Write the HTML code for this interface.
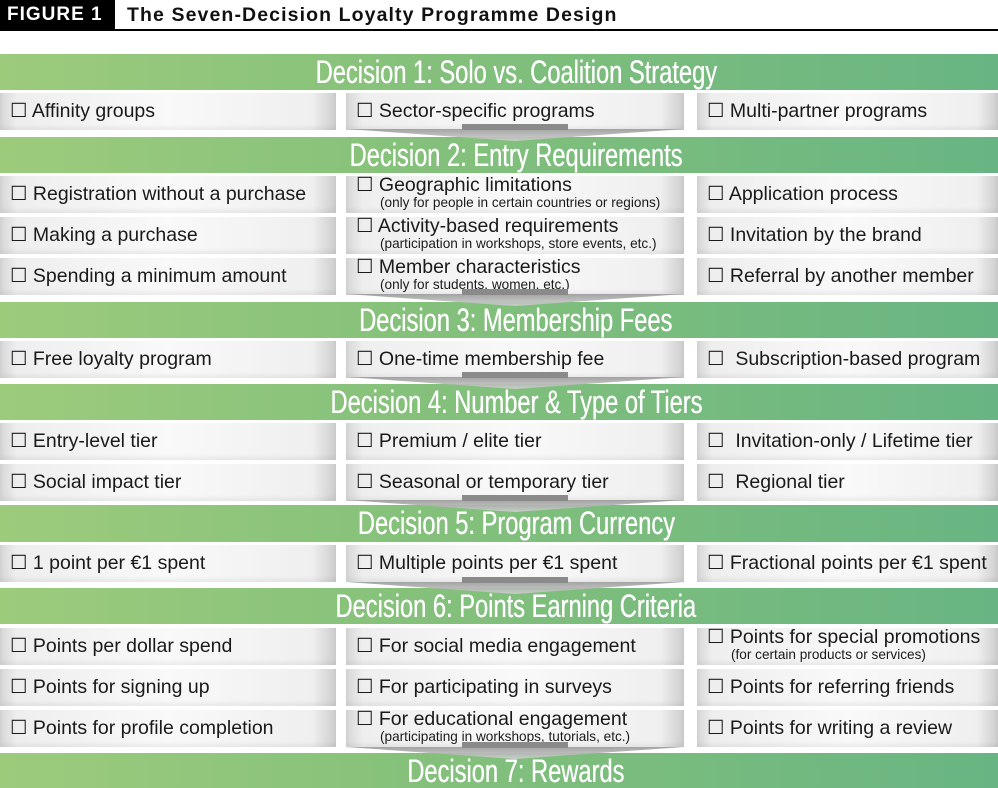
<!DOCTYPE html>
<html><head><meta charset="utf-8"><style>
*{margin:0;padding:0;box-sizing:border-box}
body{width:998px;height:788px;background:#fff;position:relative;overflow:hidden;font-family:"Liberation Sans",sans-serif}
.hdr{position:absolute;left:0;top:0;width:115px;height:30px;background:#000;color:#fff;font-weight:bold;font-size:19px;line-height:30px;padding-left:7px;letter-spacing:1px}
.ttl{position:absolute;left:127px;top:0;height:30px;line-height:30px;font-weight:bold;font-size:19.5px;color:#111;letter-spacing:1.1px}
.line{position:absolute;left:0;top:29px;width:998px;height:2px;background:#000}
.bar{position:absolute;left:0;width:998px;padding-left:34px;background:linear-gradient(to right,#9dcb7c,#83c07b 45%,#68b583);color:#fff;text-align:center;font-family:"Liberation Sans Narrow","Liberation Sans",sans-serif;font-size:32px;white-space:nowrap;overflow:hidden;text-shadow:0.4px 0 0 #fff}
.bar span{display:inline-block;transform:scaleX(0.74)}
.c{position:absolute;height:37px;background:linear-gradient(to right,#d6d6d6,#eeeeee 5%,#f9f9f9 50%,#efefef 93%,#cdcdcd);color:#1a1a1a;font-size:19.5px;padding-left:10px;line-height:37px;white-space:nowrap;box-shadow:inset 0 -3px 4px rgba(0,0,0,0.06)}
.c.s{line-height:19px;padding-top:0}
.c small{display:block;font-size:13.6px;line-height:16px;padding-left:24px}
.a{left:0;width:336px}.b{left:346px;width:338px}.d{left:697px;width:301px}
svg{position:absolute;left:0;top:0}
</style></head><body>
<div class="hdr">FIGURE 1</div>
<div class="ttl">The Seven-Decision Loyalty Programme Design</div>
<div class="line"></div>

<div class="bar" style="top:54px;height:36px;line-height:36px"><span>Decision 1: Solo vs. Coalition Strategy</span></div>
<div class="bar" style="top:137px;height:36px;line-height:36px"><span>Decision 2: Entry Requirements</span></div>
<div class="bar" style="top:302px;height:36px;line-height:36px"><span>Decision 3: Membership Fees</span></div>
<div class="bar" style="top:384px;height:36px;line-height:36px"><span>Decision 4: Number &amp; Type of Tiers</span></div>
<div class="bar" style="top:505px;height:37px;line-height:37px"><span>Decision 5: Program Currency</span></div>
<div class="bar" style="top:588px;height:36px;line-height:36px"><span>Decision 6: Points Earning Criteria</span></div>
<div class="bar" style="top:753px;height:35px;line-height:37px"><span>Decision 7: Rewards</span></div>

<div class="c a" style="top:93px">☐ Affinity groups</div>
<div class="c b" style="top:93px">☐ Sector-specific programs</div>
<div class="c d" style="top:93px">☐ Multi-partner programs</div>

<div class="c a" style="top:176px">☐ Registration without a purchase</div>
<div class="c b s" style="top:176px">☐ Geographic limitations<small>(only for people in certain countries or regions)</small></div>
<div class="c d" style="top:176px">☐ Application process</div>
<div class="c a" style="top:217px">☐ Making a purchase</div>
<div class="c b s" style="top:217px">☐ Activity-based requirements<small>(participation in workshops, store events, etc.)</small></div>
<div class="c d" style="top:217px">☐ Invitation by the brand</div>
<div class="c a" style="top:258px">☐ Spending a minimum amount</div>
<div class="c b s" style="top:258px">☐ Member characteristics<small>(only for students, women, etc.)</small></div>
<div class="c d" style="top:258px">☐ Referral by another member</div>

<div class="c a" style="top:341px">☐ Free loyalty program</div>
<div class="c b" style="top:341px">☐ One-time membership fee</div>
<div class="c d" style="top:341px">☐&nbsp; Subscription-based program</div>

<div class="c a" style="top:423px">☐ Entry-level tier</div>
<div class="c b" style="top:423px">☐ Premium / elite tier</div>
<div class="c d" style="top:423px">☐&nbsp; Invitation-only / Lifetime tier</div>
<div class="c a" style="top:464px">☐ Social impact tier</div>
<div class="c b" style="top:464px">☐ Seasonal or temporary tier</div>
<div class="c d" style="top:464px">☐&nbsp; Regional tier</div>

<div class="c a" style="top:545px">☐ 1 point per €1 spent</div>
<div class="c b" style="top:545px">☐ Multiple points per €1 spent</div>
<div class="c d" style="top:545px">☐ Fractional points per €1 spent</div>

<div class="c a" style="top:628px">☐ Points per dollar spend</div>
<div class="c b" style="top:628px">☐ For social media engagement</div>
<div class="c d s" style="top:628px">☐ Points for special promotions<small>(for certain products or services)</small></div>
<div class="c a" style="top:669px">☐ Points for signing up</div>
<div class="c b" style="top:669px">☐ For participating in surveys</div>
<div class="c d" style="top:669px">☐ Points for referring friends</div>
<div class="c a" style="top:710px">☐ Points for profile completion</div>
<div class="c b s" style="top:710px">☐ For educational engagement<small>(participating in workshops, tutorials, etc.)</small></div>
<div class="c d" style="top:710px">☐ Points for writing a review</div>

<svg width="998" height="788">
<defs><linearGradient id="g" x1="0" y1="0" x2="0" y2="1"><stop offset="0" stop-color="#9a9a9a"/><stop offset="1" stop-color="#d0d0d0"/></linearGradient></defs>
<g fill="url(#g)" opacity="0.9">
<polygon points="346,129 684,129 515,141"/>
<polygon points="346,294 684,294 515,306"/>
<polygon points="346,377 684,377 515,389"/>
<polygon points="346,500 684,500 515,512"/>
<polygon points="346,582 684,582 515,594"/>
<polygon points="346,747 684,747 515,759"/>
</g>
<g fill="#8a8a8a">
<rect x="462" y="124" width="106" height="6"/>
<rect x="462" y="289" width="106" height="6"/>
<rect x="462" y="372" width="106" height="6"/>
<rect x="462" y="495" width="106" height="6"/>
<rect x="462" y="577" width="106" height="6"/>
<rect x="462" y="742" width="106" height="6"/>
</g>
</svg>
</body></html>
